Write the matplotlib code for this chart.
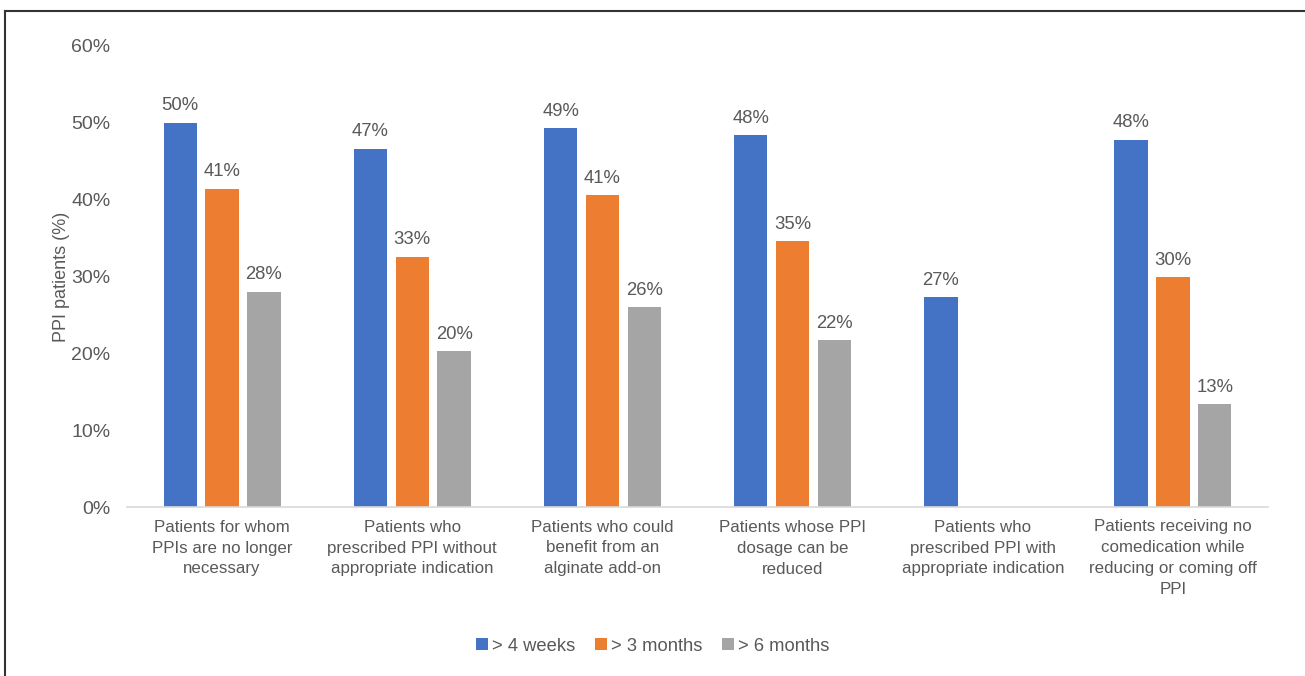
import numpy as np
import matplotlib.pyplot as plt
from matplotlib.lines import Line2D

plt.rcParams['font.family'] = ['Liberation Sans', 'DejaVu Sans']

categories = [
    "Patients for whom\nPPIs are no longer\nnecessary",
    "Patients who\nprescribed PPI without\nappropriate indication",
    "Patients who could\nbenefit from an\nalginate add-on",
    "Patients whose PPI\ndosage can be\nreduced",
    "Patients who\nprescribed PPI with\nappropriate indication",
    "Patients receiving no\ncomedication while\nreducing or coming off\nPPI",
]
weeks4 = [50.0, 46.6, 49.3, 48.4, 27.3, 47.8]
months3 = [41.4, 32.6, 40.6, 34.6, np.nan, 29.9]
months6 = [28.0, 20.3, 26.0, 21.7, np.nan, 13.4]
series_names = ["> 4 weeks", "> 3 months", "> 6 months"]
colors = ["#4472C4", "#ED7D31", "#A5A5A5"]
text_col = "#595959"

fig = plt.figure(figsize=(13.05, 6.76), dpi=100)
ax = fig.add_axes([0.0973, 0.25, 0.8744, 0.682])

x = np.arange(len(categories))
w = 0.175
step = 0.22
for i, (vals, name, c) in enumerate(zip([weeks4, months3, months6], series_names, colors)):
    pos = x + (i - 1) * step
    ax.bar(pos, vals, width=w, color=c, label=name)
    for px, v in zip(pos, vals):
        if not np.isnan(v):
            ax.text(px, v + 1.1, f"{round(v):.0f}%", ha='center', va='bottom',
                    fontsize=13.3, color=text_col)

ax.set_xlim(-0.5, len(categories) - 0.5)
ax.set_ylim(0, 60)
ax.set_yticks(range(0, 61, 10))
ax.set_yticklabels([f"{t}%" for t in range(0, 61, 10)])
ax.set_xticks(x)
ax.set_xticklabels(categories, fontsize=12.2, color=text_col, linespacing=1.5)
ax.tick_params(axis='y', length=0, pad=12, labelsize=14, labelcolor=text_col)
ax.tick_params(axis='x', length=0, pad=9)
for s in ['top', 'right', 'left']:
    ax.spines[s].set_visible(False)
ax.spines['bottom'].set_color('#D9D9D9')
ax.spines['bottom'].set_linewidth(1.2)
ax.set_ylabel("PPI patients (%)", fontsize=13, color=text_col, labelpad=1)

fig.legend(loc='center', bbox_to_anchor=(0.5, 0.044), ncol=3, frameon=False,
           fontsize=13.2, labelcolor=text_col, handlelength=0.65, handleheight=0.65,
           handletextpad=0.2, columnspacing=1.1)

# frame lines on the top and left edges
fig.add_artist(Line2D([5 / 1305, 1.0], [1 - 11 / 676, 1 - 11 / 676], color='#333333', lw=1.5))
fig.add_artist(Line2D([5 / 1305, 5 / 1305], [0, 1 - 11 / 676], color='#333333', lw=1.5))

fig.savefig("out.png", dpi=100)
